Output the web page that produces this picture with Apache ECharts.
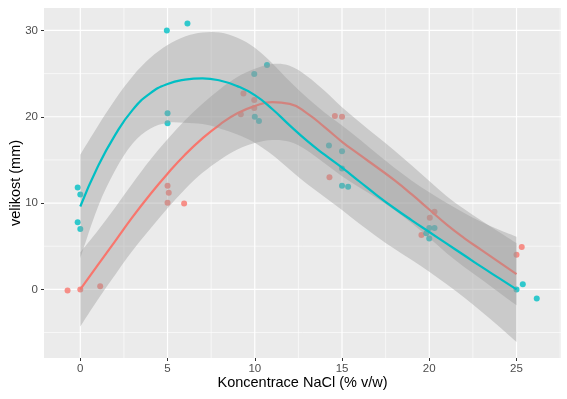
<!DOCTYPE html>
<html>
<head>
<meta charset="utf-8" />
<title>velikost vs NaCl</title>
<script src="https://cdn.jsdelivr.net/npm/echarts@6/dist/echarts.min.js"></script>
<style>
  * { margin: 0; padding: 0; }
  html, body { width: 567px; height: 399px; background: #fff; }
  #chart { width: 567px; height: 399px; }
</style>
</head>
<body>
<div id="chart"></div>
<script>
// tick labels
var xTicks = [0, 5, 10, 15, 20, 25];
var yTicks = [0, 10, 20, 30];
var xMinor = [2.5, 7.5, 12.5, 17.5, 22.5, 27.5];
var yMinor = [-5, 5, 15, 25];

// measured points (x = NaCl %, y = velikost mm)
var redPts = [[-0.73, -0.14], [0, 0], [1.14, 0.37], [5, 12], [5.07, 11.2], [5, 10.05], [5.95, 9.94],
  [9.35, 22.7], [9.97, 21.95], [9.97, 21.0], [9.2, 20.3], [14.59, 20.1], [15, 20], [14.28, 13.0],
  [20.3, 9.0], [20.03, 8.3], [19.55, 6.3], [25.3, 4.9], [25, 4.0]];
var tealPts = [[-0.15, 11.8], [0, 11], [-0.15, 7.78], [0, 7], [4.96, 30], [6.14, 30.8], [5, 20.4], [5, 19.25],
  [10.7, 26], [9.97, 24.96], [10, 20], [10.24, 19.5], [14.25, 16.66], [15, 16], [15, 14], [15, 12],
  [15.35, 11.9], [20, 7.1], [20.3, 7.1], [19.83, 6.5], [20, 5.9], [25, 0], [25.36, 0.6], [26.16, -1.07]];

// smooth curves and their bands, read at x = 0..25
var fitX = [0, 1, 2, 3, 4, 5, 6, 7, 8, 9, 10, 11, 12, 13, 14, 15, 16, 17, 18, 19, 20, 21, 22, 23, 24, 25];
var redFit = [0.0, 2.8, 5.6, 8.4, 11.0, 13.4, 15.6, 17.5, 19.1, 20.4, 21.25, 21.7, 21.5, 20.4, 18.8, 17.1, 15.6, 14.15, 12.65, 11.0, 9.25, 7.5, 5.95, 4.55, 3.15, 1.76];
var redHi = [4.3, 6.8, 9.5, 12.3, 15.0, 17.4, 19.6, 21.5, 23.2, 24.6, 25.55, 26.1, 25.9, 24.7, 23.0, 21.1, 19.4, 17.75, 16.1, 14.35, 12.55, 10.8, 9.3, 7.95, 6.65, 5.36];
var redLo = [-4.3, -1.2, 1.7, 4.5, 7.0, 9.4, 11.6, 13.5, 15.0, 16.2, 16.95, 17.3, 17.1, 16.1, 14.6, 13.1, 11.8, 10.55, 9.2, 7.65, 5.95, 4.2, 2.6, 1.15, -0.35, -1.84];
var tealFit = [9.6, 14.2, 17.9, 20.8, 22.7, 23.8, 24.3, 24.45, 24.2, 23.55, 22.5, 20.9, 19.0, 17.2, 15.6, 14.1, 12.5, 10.9, 9.4, 8.0, 6.65, 5.3, 3.95, 2.6, 1.3, 0.0];
var tealHi = [15.6, 18.9, 22.0, 24.7, 26.8, 28.3, 29.3, 29.75, 29.75, 29.15, 28.0, 26.2, 24.1, 22.2, 20.5, 19.0, 17.4, 15.7, 14.1, 12.6, 11.25, 10.0, 8.85, 7.8, 6.9, 6.1];
var tealLo = [3.6, 9.5, 13.8, 16.9, 18.6, 19.3, 19.3, 19.15, 18.65, 17.95, 17.0, 15.6, 13.9, 12.2, 10.7, 9.2, 7.6, 6.1, 4.7, 3.4, 2.05, 0.6, -0.95, -2.6, -4.3, -6.1];

var xMin = -2.08, xMax = 27.55, yMin = -7.95, yMax = 32.6;
var RED = '#F8766D', TEAL = '#00BFC4';

function pairs(xs, ys) {
  return xs.map(function (x, i) { return [x, ys[i]]; });
}

// grid lines drawn as a custom series (vertical or horizontal)
function gridSeries(vals, vertical, width) {
  return {
    type: 'custom',
    silent: true,
    z: 1,
    data: vals.map(function (v) { return [v, v]; }),
    encode: { x: 0, y: 1 },
    renderItem: function (params, api) {
      var v = api.value(0);
      var a = vertical ? api.coord([v, yMin]) : api.coord([xMin, v]);
      var b = vertical ? api.coord([v, yMax]) : api.coord([xMax, v]);
      return {
        type: 'line',
        shape: { x1: a[0], y1: a[1], x2: b[0], y2: b[1] },
        style: { stroke: '#FFFFFF', lineWidth: width }
      };
    }
  };
}

// catmull-rom through pixel points -> svg path commands (no leading M)
function curvePath(p) {
  var s = '';
  for (var i = 0; i < p.length - 1; i++) {
    var p0 = p[Math.max(i - 1, 0)], p1 = p[i], p2 = p[i + 1], p3 = p[Math.min(i + 2, p.length - 1)];
    var c1x = p1[0] + (p2[0] - p0[0]) / 6, c1y = p1[1] + (p2[1] - p0[1]) / 6;
    var c2x = p2[0] - (p3[0] - p1[0]) / 6, c2y = p2[1] - (p3[1] - p1[1]) / 6;
    s += ' C' + c1x + ',' + c1y + ' ' + c2x + ',' + c2y + ' ' + p2[0] + ',' + p2[1];
  }
  return s;
}

function ribbon(lo, hi, z) {
  return {
    type: 'custom',
    silent: true,
    z: z,
    data: fitX.map(function (x, i) { return [x, lo[i], hi[i]]; }),
    encode: { x: 0, y: [1, 2] },
    renderItem: function (params, api) {
      if (params.dataIndex !== 0) return;
      var up = fitX.map(function (x, i) { return api.coord([x, hi[i]]); });
      var dn = fitX.map(function (x, i) { return api.coord([x, lo[i]]); }).reverse();
      var d = 'M' + up[0][0] + ',' + up[0][1] + curvePath(up) +
        ' L' + dn[0][0] + ',' + dn[0][1] + curvePath(dn) + ' Z';
      return {
        type: 'path',
        shape: { pathData: d },
        style: { fill: 'rgba(153,153,153,0.4)', stroke: null }
      };
    }
  };
}

function fitLine(ys, color, z) {
  return {
    type: 'line',
    data: pairs(fitX, ys),
    smooth: true,
    showSymbol: false,
    silent: true,
    z: z,
    lineStyle: { color: color, width: 2.2 }
  };
}

var myChart = echarts.init(document.getElementById('chart'));
myChart.setOption({
  animation: false,
  textStyle: { fontFamily: 'Liberation Sans' },
  grid: {
    left: 44, right: 6, top: 8, bottom: 41,
    containLabel: false,
    outerBoundsMode: 'none',
    show: true, backgroundColor: '#EBEBEB', borderWidth: 0
  },
  xAxis: {
    type: 'value',
    min: xMin, max: xMax,
    name: 'Koncentrace NaCl (% v/w)',
    nameLocation: 'middle',
    nameGap: 17,
    nameMoveOverlap: false,
    nameTextStyle: { color: '#000', fontSize: 14.5 },
    axisLine: { show: false, onZero: false },
    axisTick: { show: true, customValues: xTicks, length: 3, lineStyle: { color: '#333333', width: 1 } },
    axisLabel: { customValues: xTicks, color: '#4D4D4D', fontSize: 11.5, margin: 5 },
    splitLine: { show: false }
  },
  yAxis: {
    type: 'value',
    min: yMin, max: yMax,
    name: 'velikost (mm)',
    nameLocation: 'middle',
    nameGap: 21,
    nameMoveOverlap: false,
    nameTextStyle: { color: '#000', fontSize: 14.5 },
    axisLine: { show: false, onZero: false },
    axisTick: { show: true, customValues: yTicks, length: 3, lineStyle: { color: '#333333', width: 1 } },
    axisLabel: { customValues: yTicks, color: '#4D4D4D', fontSize: 11.5, margin: 6 },
    splitLine: { show: false }
  },
  series: [
    gridSeries(xMinor, true, 0.6),
    gridSeries(yMinor, false, 0.6),
    gridSeries(xTicks, true, 1.2),
    gridSeries(yTicks, false, 1.2),
    { type: 'scatter', z: 2, data: redPts, symbolSize: 6, itemStyle: { color: RED } },
    { type: 'scatter', z: 2, data: tealPts, symbolSize: 6, itemStyle: { color: TEAL } },
    ribbon(redLo, redHi, 3),
    fitLine(redFit, RED, 4),
    ribbon(tealLo, tealHi, 5),
    fitLine(tealFit, TEAL, 6)
  ]
});
</script>
</body>
</html>
